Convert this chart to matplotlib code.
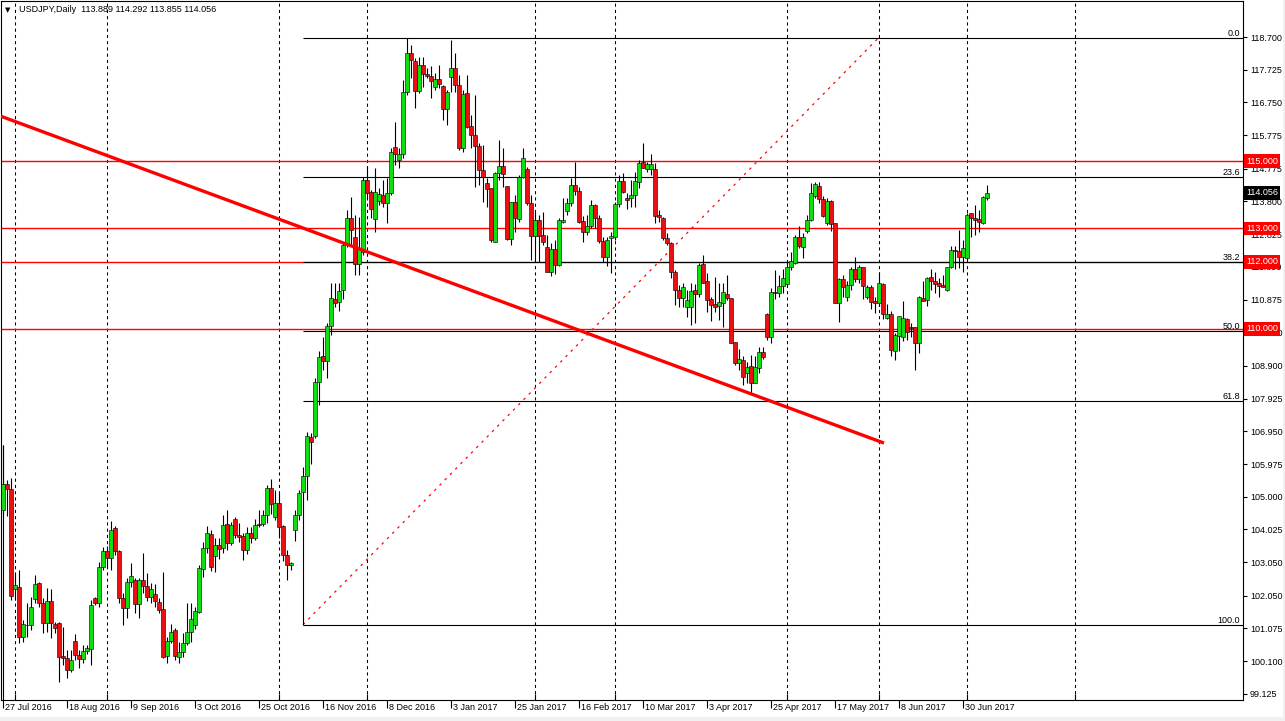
import matplotlib
matplotlib.use("Agg")
import matplotlib.pyplot as plt
import matplotlib.transforms as mtransforms
from matplotlib.patches import Rectangle
import numpy as np

# USDJPY daily candles, 27 Jul 2016 .. 10 Jul 2017
opens = [
    104.61, 105.37, 105.22, 102.24, 102.32, 100.83, 101.19, 101.17, 101.94, 102.42,
    101.83, 101.23, 101.88, 101.20, 101.23, 100.26, 100.19, 99.84, 100.71, 100.28,
    100.18, 100.40, 100.45, 101.97, 101.84, 102.90, 103.37, 103.19, 104.06, 103.37,
    101.97, 101.68, 102.45, 102.52, 101.80, 102.52, 102.35, 102.02, 102.10, 101.86,
    101.66, 100.27, 100.69, 101.03, 100.24, 100.37, 100.63, 100.97, 101.17, 101.58,
    102.84, 103.47, 103.88, 103.24, 103.56, 103.46, 104.19, 103.63, 104.33, 103.86,
    103.83, 103.41, 103.91, 103.78, 104.19, 104.19, 104.46, 105.25, 104.41, 104.80,
    104.13, 103.26, 102.96, 104.01, 104.46, 105.13, 105.62, 106.77, 106.82, 108.41,
    109.19, 109.05, 110.10, 110.89, 110.80, 111.15, 112.50, 113.30, 112.75, 111.93,
    112.30, 114.44, 114.07, 113.27, 113.82, 113.99, 113.74, 114.04, 115.41, 115.04,
    115.20, 117.05, 118.21, 117.98, 117.10, 117.87, 117.59, 117.55, 117.22, 117.45,
    117.25, 116.55, 117.52, 117.77, 117.26, 115.38, 117.02, 116.05, 115.78, 115.45,
    114.73, 114.34, 114.19, 112.60, 114.64, 114.87, 114.26, 112.69, 113.79, 113.27,
    114.54, 114.76, 113.76, 112.77, 113.25, 112.79, 112.43, 111.71, 112.37, 111.91,
    113.20, 113.53, 113.74, 114.29, 114.12, 113.23, 112.88, 113.08, 113.69, 113.30,
    112.63, 112.14, 112.70, 112.75, 113.72, 114.41, 113.89, 113.89, 113.99, 114.39,
    114.97, 114.76, 114.76, 114.76, 113.40, 113.30, 112.70, 112.55, 111.71, 111.16,
    110.91, 110.66, 110.66, 111.15, 111.03, 111.94, 111.43, 110.88, 110.74, 110.69,
    110.78, 111.03, 110.91, 109.61, 108.99, 109.08, 108.70, 108.90, 108.40, 108.83,
    109.31, 110.46, 109.75, 111.10, 111.08, 111.28, 111.33, 111.84, 111.98, 112.73,
    112.45, 112.93, 113.25, 113.96, 114.26, 113.86, 113.15, 113.81, 113.15, 110.78,
    111.49, 110.96, 111.31, 111.78, 111.48, 111.84, 110.96, 111.26, 110.83, 110.76,
    111.34, 110.34, 110.45, 109.35, 109.80, 109.77, 110.29, 110.05, 110.05, 109.57,
    110.92, 110.86, 111.54, 111.44, 111.38, 111.31, 111.16, 111.84, 112.35, 112.32,
    112.15, 112.10, 113.45, 113.30, 113.27, 113.17, 113.889,
]
highs = [
    106.54, 105.50, 105.57, 102.72, 102.82, 101.33, 101.83, 102.02, 102.67, 102.47,
    101.97, 102.27, 102.24, 101.28, 101.28, 101.13, 100.43, 100.43, 100.91, 100.43,
    100.58, 100.58, 101.92, 102.02, 103.07, 103.51, 103.53, 104.29, 104.13, 103.41,
    102.12, 102.57, 103.02, 102.57, 102.57, 103.32, 102.72, 102.42, 102.40, 101.97,
    102.75, 100.83, 101.20, 101.08, 100.68, 100.93, 101.83, 101.83, 101.73, 102.97,
    103.66, 104.13, 104.01, 103.76, 103.76, 104.46, 104.61, 104.26, 104.41, 104.21,
    103.91, 104.11, 104.11, 104.33, 104.61, 104.61, 105.35, 105.52, 105.20, 105.10,
    104.16, 103.41, 103.07, 104.61, 105.20, 105.90, 106.94, 106.89, 108.53, 109.34,
    109.77, 110.19, 111.36, 111.36, 111.36, 112.60, 113.55, 113.94, 113.40, 113.35,
    114.54, 114.87, 114.14, 114.79, 114.19, 114.44, 114.49, 115.38, 116.18, 115.38,
    117.42, 118.66, 118.46, 118.06, 118.11, 118.09, 117.79, 117.85, 117.62, 117.87,
    117.27, 117.12, 118.62, 118.21, 117.57, 117.12, 117.57, 116.38, 116.97, 115.53,
    115.48, 114.49, 114.19, 114.69, 115.63, 115.38, 114.26, 113.79, 113.99, 114.60,
    115.38, 114.84, 113.99, 113.50, 113.40, 113.50, 112.80, 112.55, 112.65, 113.30,
    113.89, 113.89, 114.49, 114.99, 114.24, 113.37, 113.40, 113.84, 113.72, 113.40,
    112.75, 112.75, 112.90, 113.79, 114.59, 114.64, 114.04, 114.44, 114.69, 115.04,
    115.53, 114.99, 115.21, 114.94, 113.55, 113.33, 112.85, 112.60, 111.76, 111.31,
    111.36, 111.16, 111.36, 111.34, 111.96, 112.20, 111.66, 110.96, 111.56, 111.36,
    111.36, 111.61, 110.93, 109.62, 109.39, 109.18, 109.03, 109.23, 109.18, 109.47,
    109.47, 110.48, 111.21, 111.76, 111.61, 111.78, 112.05, 112.30, 112.80, 113.07,
    112.87, 113.40, 114.34, 114.39, 114.39, 113.96, 113.89, 113.83, 113.17, 111.51,
    111.61, 111.44, 111.86, 112.13, 111.91, 111.86, 111.31, 111.31, 110.96, 111.71,
    111.36, 110.73, 110.55, 109.87, 110.40, 110.83, 110.32, 110.17, 110.07, 110.98,
    111.43, 111.56, 111.78, 111.71, 111.51, 111.61, 111.86, 112.47, 112.47, 112.95,
    112.65, 113.45, 113.47, 113.69, 113.55, 113.96, 114.292,
]
lows = [
    104.50, 104.43, 101.92, 101.92, 100.63, 100.68, 100.83, 101.03, 101.83, 101.73,
    100.93, 100.98, 100.78, 100.95, 99.49, 99.99, 99.59, 99.79, 100.14, 99.89,
    100.04, 100.32, 99.99, 101.78, 101.73, 102.82, 102.92, 102.82, 103.27, 101.84,
    101.18, 101.38, 102.32, 101.53, 101.38, 102.12, 101.88, 101.83, 101.73, 101.53,
    100.20, 100.06, 100.63, 100.14, 100.04, 100.22, 100.58, 100.66, 101.05, 101.53,
    102.62, 103.32, 102.80, 102.77, 103.14, 103.31, 103.41, 103.56, 103.76, 103.66,
    103.13, 103.29, 103.61, 103.71, 104.11, 104.13, 104.23, 104.48, 104.31, 103.76,
    103.10, 102.52, 102.82, 103.69, 104.31, 101.19, 104.90, 105.99, 106.74, 107.73,
    108.78, 108.53, 109.82, 110.66, 110.55, 110.90, 112.45, 112.50, 111.60, 111.60,
    112.20, 113.89, 113.30, 112.90, 113.70, 113.64, 113.15, 113.99, 114.89, 114.79,
    115.08, 116.97, 117.47, 116.57, 117.02, 117.22, 117.47, 116.87, 117.12, 117.17,
    116.23, 116.08, 117.07, 117.07, 115.33, 115.28, 115.98, 115.38, 114.24, 114.29,
    113.79, 113.63, 112.60, 112.60, 114.44, 114.24, 112.65, 112.50, 112.90, 113.20,
    114.49, 113.69, 112.06, 112.01, 112.01, 112.50, 111.71, 111.58, 111.64, 111.88,
    113.15, 113.40, 113.65, 113.99, 113.15, 112.60, 112.80, 113.02, 113.00, 112.55,
    112.01, 111.88, 111.68, 112.65, 113.62, 114.04, 113.57, 113.64, 113.64, 114.19,
    114.79, 114.69, 114.59, 113.17, 113.20, 112.65, 112.50, 111.51, 110.71, 110.66,
    110.66, 110.37, 110.12, 110.17, 110.96, 111.36, 110.52, 110.25, 110.51, 110.27,
    110.07, 110.86, 109.57, 108.93, 108.78, 108.33, 108.40, 108.10, 108.38, 108.68,
    109.12, 109.67, 109.59, 110.88, 110.94, 111.08, 111.28, 111.76, 111.94, 112.40,
    112.10, 112.87, 113.23, 113.89, 113.76, 113.33, 113.10, 112.93, 110.76, 110.21,
    110.96, 110.84, 111.16, 111.41, 111.36, 110.88, 110.88, 110.61, 110.49, 110.69,
    110.29, 110.29, 109.20, 109.08, 109.34, 109.65, 109.67, 109.75, 108.78, 109.27,
    110.83, 110.69, 111.16, 111.08, 110.94, 111.24, 111.14, 111.81, 111.78, 111.81,
    111.71, 112.07, 112.75, 112.80, 112.90, 113.13, 113.855,
]
closes = [
    105.37, 105.22, 102.04, 102.37, 100.83, 101.20, 101.17, 101.73, 102.40, 101.83,
    101.23, 101.88, 101.23, 101.08, 100.24, 100.21, 99.84, 100.14, 100.28, 100.18,
    100.40, 100.49, 101.77, 101.84, 102.90, 103.37, 103.19, 104.01, 103.37, 101.97,
    101.68, 102.45, 102.65, 101.80, 102.52, 102.35, 102.02, 102.24, 101.88, 101.63,
    100.24, 100.69, 100.97, 100.27, 100.38, 100.63, 100.97, 101.36, 101.60, 102.87,
    103.48, 103.91, 102.92, 103.56, 103.43, 104.16, 103.63, 104.16, 103.86, 103.81,
    103.41, 103.91, 103.78, 104.16, 104.16, 104.46, 105.25, 104.77, 104.80, 104.11,
    103.25, 102.96, 103.02, 104.46, 105.12, 105.62, 106.81, 106.64, 108.41, 109.16,
    109.05, 110.10, 110.91, 110.76, 111.13, 112.50, 113.30, 112.95, 111.93, 112.38,
    114.44, 114.06, 113.57, 114.07, 114.01, 113.74, 114.04, 115.26, 115.20, 115.20,
    117.05, 118.21, 118.01, 117.10, 117.87, 117.59, 117.55, 117.39, 117.45, 117.29,
    116.55, 117.05, 117.77, 117.26, 115.38, 117.00, 116.03, 115.78, 115.45, 114.74,
    114.53, 114.17, 112.64, 114.64, 114.87, 114.62, 112.69, 113.79, 113.30, 114.54,
    115.09, 113.76, 112.77, 113.25, 112.77, 112.60, 111.71, 112.37, 111.91, 113.25,
    113.25, 113.74, 114.29, 114.12, 113.20, 112.90, 113.08, 113.69, 113.30, 112.63,
    112.14, 112.65, 112.77, 113.72, 114.41, 114.09, 113.84, 113.99, 114.41, 114.94,
    114.81, 114.91, 114.92, 113.37, 113.33, 112.70, 112.55, 111.71, 111.16, 110.91,
    111.24, 110.86, 111.14, 111.03, 111.91, 111.38, 110.86, 110.71, 110.66, 110.79,
    111.09, 110.91, 109.59, 108.98, 109.10, 108.58, 108.88, 108.40, 108.88, 109.31,
    109.15, 109.75, 111.09, 111.06, 111.28, 111.53, 111.84, 112.03, 112.73, 112.47,
    112.73, 113.25, 114.04, 114.32, 113.86, 113.37, 113.82, 113.13, 110.78, 111.49,
    111.26, 111.31, 111.78, 111.48, 111.84, 111.28, 111.26, 110.81, 110.76, 111.36,
    110.46, 110.46, 109.37, 109.82, 110.39, 110.32, 109.92, 110.02, 109.57, 110.94,
    110.84, 111.51, 111.44, 111.34, 111.28, 111.26, 111.84, 112.35, 112.33, 112.15,
    112.40, 113.40, 113.30, 113.25, 113.20, 113.92, 114.056,
]

# axis labels
date_labels = ["27 Jul 2016", "18 Aug 2016", "9 Sep 2016", "3 Oct 2016", "25 Oct 2016",
               "16 Nov 2016", "8 Dec 2016", "3 Jan 2017", "25 Jan 2017", "16 Feb 2017",
               "10 Mar 2017", "3 Apr 2017", "25 Apr 2017", "17 May 2017", "8 Jun 2017",
               "30 Jun 2017"]
date_label_bars = [0, 16, 32, 48, 64, 80, 96, 112, 128, 144, 160, 176, 192, 208, 224, 240]
month_start_bars = [3, 26, 48, 69, 91, 112, 133, 153, 176, 196, 219, 241, 268]
price_ticks = [118.700, 117.725, 116.750, 115.775, 114.775, 113.800, 112.825, 111.850,
               110.875, 109.900, 108.900, 107.925, 106.950, 105.975, 105.000, 104.025,
               103.050, 102.050, 101.075, 100.100, 99.125]

# drawn objects
level_lines = [115.000, 113.000, 112.000, 110.000]
fib_levels = [0.0, 23.6, 38.2, 50.0, 61.8, 100.0]
fib_anchor_bars = [75, 218.75]
fib_anchor_prices = [101.19, 118.66]   # low, high
trend_bars = [-1, 220.25]
trend_prices = [116.36, 106.60]
last_price = 114.056

GREEN = "#12dc12"
RED = "#e81010"

o = np.array(opens); h = np.array(highs); l = np.array(lows); c = np.array(closes)
idx = np.arange(len(o))

W, H = 1285, 721
fig = plt.figure(figsize=(W / 100, H / 100), dpi=100, facecolor="white")
ax = fig.add_axes([1 / W, 1 - 700 / H, 1242 / W, 699 / H])
ax.set_xlim(-0.5, 310)
ax.set_ylim(98.944, 119.773)

# month grid
ax.set_xticks(month_start_bars, minor=True)
ax.grid(True, which="minor", axis="x", color="black", linestyle=(0, (3, 3)), linewidth=0.75)
ax.grid(False, which="major")

# odd vertical line at the left edge
ax.vlines(0, 98.944, h[0], color="black", linewidth=0.8, zorder=2)

# candles
up = c >= o
colors = np.where(up, GREEN, RED)
ax.vlines(idx, l, h, color="black", linewidth=0.8, zorder=3)
body = np.maximum(np.abs(c - o), 0.02)
ax.bar(idx, body, bottom=np.minimum(o, c), width=0.8, color=colors,
       edgecolor="black", linewidth=0.4, zorder=4)

# horizontal red levels
for lv in level_lines:
    ax.axhline(lv, color="red", linewidth=1, zorder=2)

# fibonacci retracement
low_p, high_p = fib_anchor_prices
for lv in fib_levels:
    p = high_p - (high_p - low_p) * lv / 100
    ax.hlines(p, fib_anchor_bars[0], 310, color="black", linewidth=0.8, zorder=2)
    ax.text(0.9975, p, f"{lv:.1f}", transform=mtransforms.blended_transform_factory(ax.transAxes, ax.transData),
            ha="right", va="bottom", fontsize=6.5, family="Liberation Sans", color="black")
ax.plot(fib_anchor_bars, fib_anchor_prices, color="red", linewidth=0.9,
        linestyle=(0, (2, 4)), zorder=2)

# trend line
ax.plot(trend_bars, trend_prices, color="red", linewidth=2.4, solid_capstyle="butt", zorder=5)

# right price axis
ax.yaxis.tick_right()
ax.set_yticks(price_ticks)
ax.set_yticklabels([f"{p:.3f}" for p in price_ticks])
ax.tick_params(axis="y", direction="out", length=3, width=0.8, pad=2, labelsize=6.5,
               labelfontfamily="Liberation Sans")

# bottom date axis
ax.set_xticks(date_label_bars)
ax.set_xticklabels([""] * len(date_label_bars))
ax.tick_params(axis="x", which="major", direction="out", length=6, width=0.8)
ax.tick_params(axis="x", which="minor", direction="in", length=4, width=0.8, top=False)
off = mtransforms.ScaledTranslation(2 / 100, -3 / 100, fig.dpi_scale_trans)
xtrans = mtransforms.blended_transform_factory(ax.transData, ax.transAxes) + off
for b, lab in zip(date_label_bars, date_labels):
    ax.text(b, 0, lab, transform=xtrans, ha="left", va="top", fontsize=6.5,
            family="Liberation Sans", clip_on=False)

for s in ax.spines.values():
    s.set_linewidth(0.8)
    s.set_color("black")

# price boxes on the right axis
ytrans = mtransforms.blended_transform_factory(ax.transAxes, ax.transData) + \
    mtransforms.ScaledTranslation(3 / 100, 0, fig.dpi_scale_trans)
for lv in level_lines:
    ax.text(1.0, lv, f"{lv:.3f}", transform=ytrans, ha="left", va="center", fontsize=6.5,
            family="Liberation Sans", color="white", clip_on=False, zorder=10,
            bbox=dict(boxstyle="square,pad=0.25", facecolor="red", edgecolor="none"))
ax.text(1.0, last_price, f"{last_price:.3f}", transform=ytrans, ha="left", va="center",
        fontsize=6.5, family="Liberation Sans", color="white", clip_on=False, zorder=10,
        bbox=dict(boxstyle="square,pad=0.25", facecolor="black", edgecolor="none"))

# header
fig.text(5 / W, 1 - 10 / H, "\u25bc", fontsize=5, va="center", ha="left")
fig.text(19 / W, 1 - 10 / H, "USDJPY,Daily  113.889 114.292 113.855 114.056",
         fontsize=6.5, family="Liberation Sans", va="center", ha="left")

# window edges
fig.patches.append(Rectangle((0, 0), 1, 4 / H, transform=fig.transFigure,
                             facecolor="#f0f0f0", edgecolor="none"))
fig.patches.append(Rectangle((1 - 2 / W, 0), 2 / W, 1, transform=fig.transFigure,
                             facecolor="#f0f0f0", edgecolor="none"))

fig.savefig("out.png", dpi=100, facecolor="white")
